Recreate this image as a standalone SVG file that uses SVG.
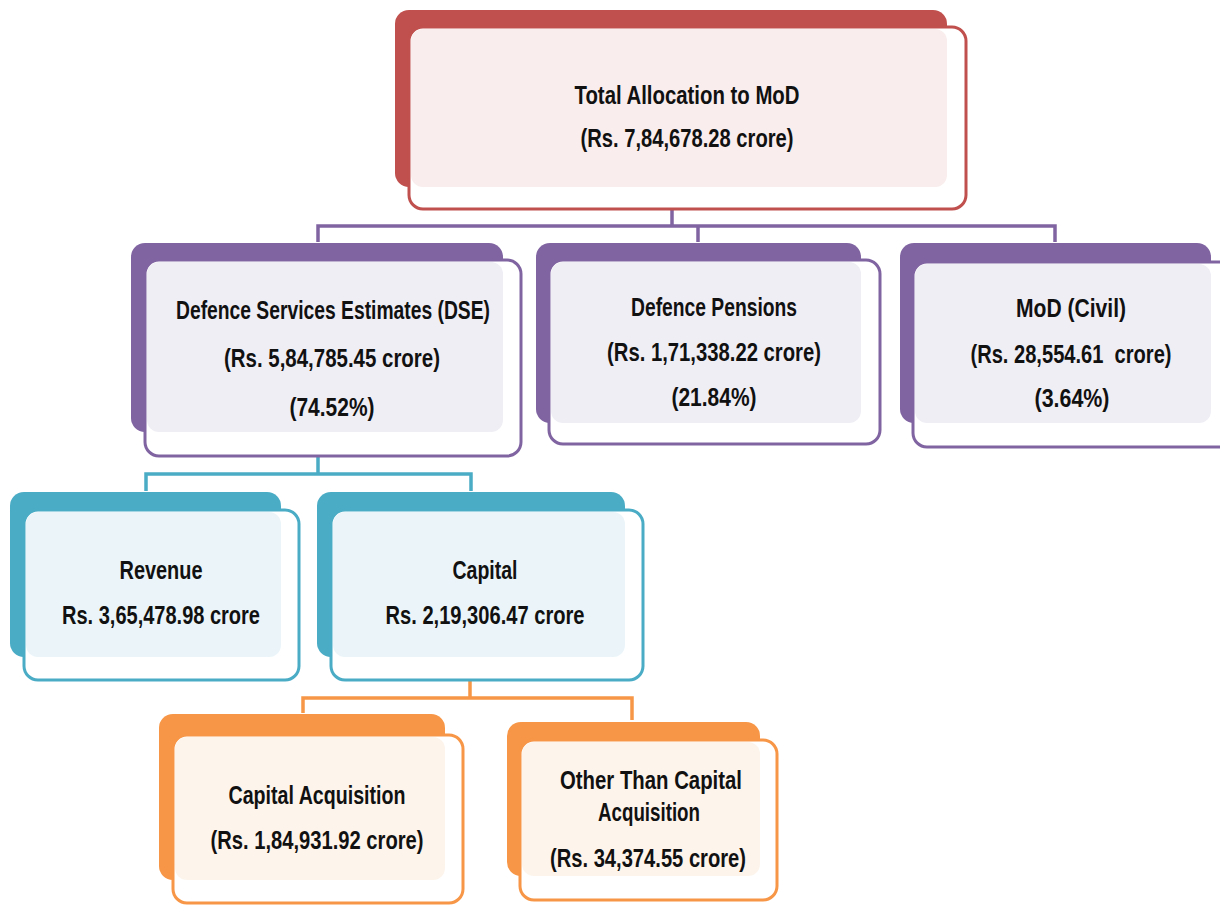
<svg xmlns="http://www.w3.org/2000/svg" width="1220" height="907" viewBox="0 0 1220 907">
<style>
text{font-family:"Liberation Sans",Arial,sans-serif;font-weight:bold;font-size:25px;fill:#111;text-anchor:middle}
.front{fill:#fff;stroke-width:3}
.red .back{fill:#C0504D}.red .front{stroke:#C0504D}.red .tint{fill:#F9EDED}
.pur .back{fill:#8064A2}.pur .front{stroke:#8064A2}.pur .tint{fill:#F0EEF5}
.teal .back{fill:#4BACC6}.teal .front{stroke:#4BACC6}.teal .tint{fill:#EBF5F9}
.org .back{fill:#F79646}.org .front{stroke:#F79646}.org .tint{fill:#FDF4EC}
.c{fill:none;stroke-width:3.5}
</style>
<g id="connectors">
<path class="c" d="M672 187 V209" stroke="#C9BEDC" stroke-width="2"/>
<path class="c" stroke="#8064A2" d="M672 209 V226 M318 242 V226 H1055 V242 M698 226 V242"/>
<path class="c" d="M318 432 V456" stroke="#BFE3EE" stroke-width="2"/>
<path class="c" stroke="#4BACC6" d="M318 456 V474 M146 491 V474 H471 V491"/>
<path class="c" d="M470 657 V680" stroke="#FAD1B2" stroke-width="2"/>
<path class="c" stroke="#F79646" d="M470 680 V698 M303 713 V698 H632 V720"/>
</g>
<g id="total" class="red">
<rect class="back" x="395" y="10" width="552" height="177" rx="14"/>
<rect class="front" x="409" y="27" width="557" height="182" rx="14"/>
<rect class="tint" x="411" y="29" width="536" height="158" rx="12"/>
<text x="687" y="104" textLength="225" lengthAdjust="spacingAndGlyphs">Total Allocation to MoD</text>
<text x="687" y="147" textLength="213" lengthAdjust="spacingAndGlyphs">(Rs. 7,84,678.28 crore)</text>
</g>
<g id="dse" class="pur">
<rect class="back" x="131" y="243" width="372" height="189" rx="14"/>
<rect class="front" x="145" y="260" width="376" height="196" rx="14"/>
<rect class="tint" x="147" y="262" width="356" height="170" rx="12"/>
<text x="333" y="319" textLength="314" lengthAdjust="spacingAndGlyphs">Defence Services Estimates (DSE)</text>
<text x="332" y="367" textLength="216" lengthAdjust="spacingAndGlyphs">(Rs. 5,84,785.45 crore)</text>
<text x="332" y="416" textLength="85" lengthAdjust="spacingAndGlyphs">(74.52%)</text>
</g>
<g id="pensions" class="pur">
<rect class="back" x="536" y="243" width="325" height="180" rx="14"/>
<rect class="front" x="549" y="260" width="331" height="184" rx="14"/>
<rect class="tint" x="551" y="262" width="310" height="161" rx="12"/>
<text x="714" y="316" textLength="166" lengthAdjust="spacingAndGlyphs">Defence Pensions</text>
<text x="714" y="361" textLength="214" lengthAdjust="spacingAndGlyphs">(Rs. 1,71,338.22 crore)</text>
<text x="714" y="406" textLength="85" lengthAdjust="spacingAndGlyphs">(21.84%)</text>
</g>
<g id="civil" class="pur">
<rect class="back" x="900" y="243" width="311" height="180" rx="14"/>
<rect class="front" x="913" y="262" width="320" height="185" rx="14"/>
<rect class="tint" x="915" y="264" width="296" height="159" rx="12"/>
<text x="1071" y="317" textLength="110" lengthAdjust="spacingAndGlyphs">MoD (Civil)</text>
<text x="1071" y="363" textLength="201" lengthAdjust="spacingAndGlyphs" xml:space="preserve">(Rs. 28,554.61  crore)</text>
<text x="1072" y="407" textLength="75" lengthAdjust="spacingAndGlyphs">(3.64%)</text>
</g>
<g id="revenue" class="teal">
<rect class="back" x="10" y="492" width="271" height="165" rx="14"/>
<rect class="front" x="24" y="510" width="275" height="170" rx="14"/>
<rect class="tint" x="26" y="512" width="255" height="145" rx="12"/>
<text x="161" y="579" textLength="83" lengthAdjust="spacingAndGlyphs">Revenue</text>
<text x="161" y="624" textLength="198" lengthAdjust="spacingAndGlyphs">Rs. 3,65,478.98 crore</text>
</g>
<g id="capital" class="teal">
<rect class="back" x="317" y="492" width="308" height="165" rx="14"/>
<rect class="front" x="331" y="510" width="312" height="170" rx="14"/>
<rect class="tint" x="333" y="512" width="292" height="145" rx="12"/>
<text x="485" y="579" textLength="65" lengthAdjust="spacingAndGlyphs">Capital</text>
<text x="485" y="624" textLength="199" lengthAdjust="spacingAndGlyphs">Rs. 2,19,306.47 crore</text>
</g>
<g id="capacq" class="org">
<rect class="back" x="159" y="714" width="286" height="166" rx="14"/>
<rect class="front" x="173" y="735" width="290" height="168" rx="14"/>
<rect class="tint" x="175" y="737" width="270" height="143" rx="12"/>
<text x="317" y="804" textLength="177" lengthAdjust="spacingAndGlyphs">Capital Acquisition</text>
<text x="317" y="849" textLength="213" lengthAdjust="spacingAndGlyphs">(Rs. 1,84,931.92 crore)</text>
</g>
<g id="othercap" class="org">
<rect class="back" x="507" y="722" width="253" height="154" rx="14"/>
<rect class="front" x="520" y="740" width="257" height="160" rx="14"/>
<rect class="tint" x="522" y="742" width="238" height="134" rx="12"/>
<text x="651" y="789" textLength="182" lengthAdjust="spacingAndGlyphs">Other Than Capital</text>
<text x="649" y="821" textLength="102" lengthAdjust="spacingAndGlyphs">Acquisition</text>
<text x="648" y="867" textLength="196" lengthAdjust="spacingAndGlyphs">(Rs. 34,374.55 crore)</text>
</g>
</svg>
